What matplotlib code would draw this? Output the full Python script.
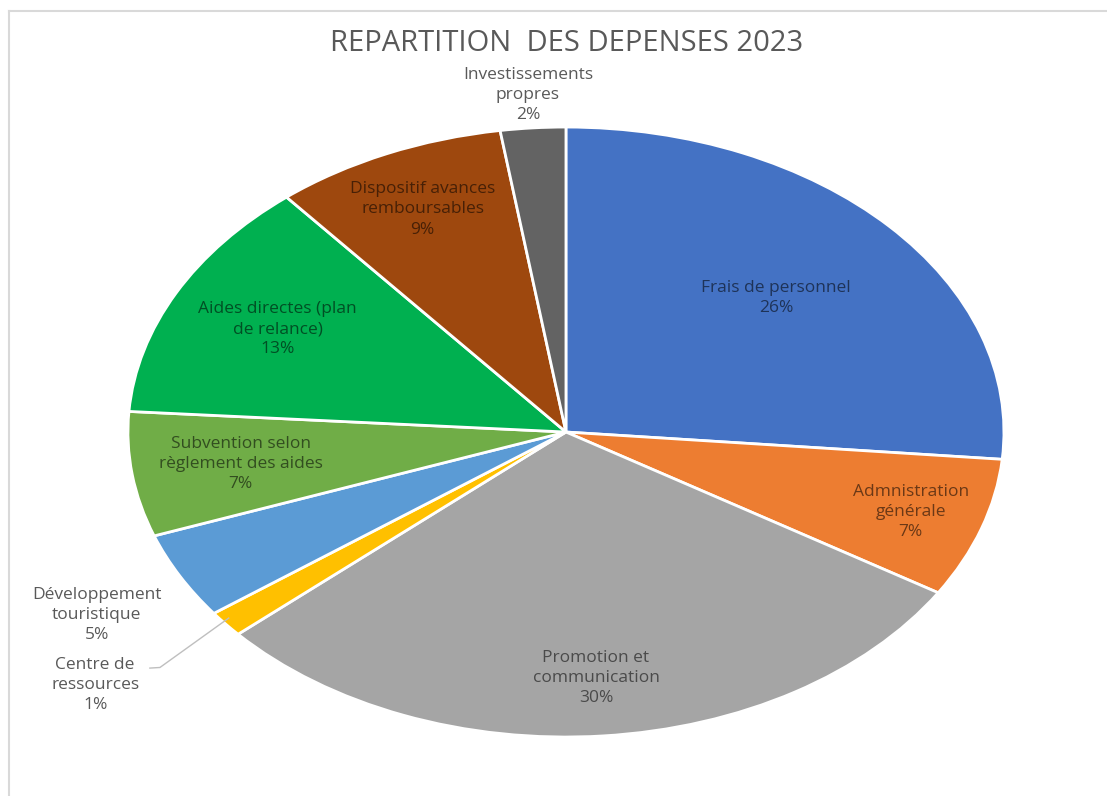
import matplotlib.pyplot as plt
import numpy as np
from matplotlib.lines import Line2D

plt.rcParams['font.family'] = ['Open Sans', 'DejaVu Sans']

# data (clockwise from 12 o'clock)
categories = ["Frais de personnel", "Admnistration\ngénérale", "Promotion et\ncommunication",
              "Centre de\nressources", "Développement\ntouristique", "Subvention selon\nrèglement des aides",
              "Aides directes (plan\nde relance)", "Dispositif avances\nremboursables", "Investissements\npropres"]
values = [26.4, 7.4, 29.6, 1.4, 4.6, 6.6, 12.9, 8.6, 2.4]
colors = ["#4472C4", "#ED7D31", "#A5A5A5", "#FFC000", "#5B9BD5",
          "#70AD47", "#00B050", "#9E480E", "#636363"]

# label placement: radius for inside labels, None -> placed outside
label_r = [0.65, 0.83, 0.81, None, None, 0.75, 0.74, 0.80, None]
outside_xy = {3: (-1.075, -0.83), 4: (-1.071, -0.60), 8: (-0.087, 1.105)}

fig = plt.figure(figsize=(11.07, 7.96), dpi=100)
ax = fig.add_axes([0.1156, 0.0741, 0.7913, 0.7663])

wedges, _ = ax.pie(values, colors=colors, startangle=90, counterclock=False,
                   wedgeprops=dict(edgecolor="white", linewidth=2))
ax.set_aspect("auto")
ax.set_xlim(-1, 1)
ax.set_ylim(-1, 1)

total = sum(values)
for i, (w, name, v) in enumerate(zip(wedges, categories, values)):
    txt = f"{name}\n{round(v / total * 100)}%"
    if label_r[i] is not None:
        mid = np.deg2rad((w.theta1 + w.theta2) / 2)
        x, y = label_r[i] * np.cos(mid), label_r[i] * np.sin(mid)
        ax.text(x, y, txt, ha="center", va="center", fontsize=12.5,
                color="black", alpha=0.55, linespacing=1.35)
    else:
        x, y = outside_xy[i]
        ax.text(x, y, txt, ha="center", va="center", fontsize=12.5,
                color="#595959", linespacing=1.35)

# leader line for "Centre de ressources"
ax.plot([-0.95, -0.927, -0.77], [-0.774, -0.772, -0.61], color="#BFBFBF", lw=1, clip_on=False)

fig.text(0.512, 0.945, "REPARTITION  DES DEPENSES 2023", ha="center", va="center",
         fontsize=21, color="#595959")

# chart frame
fig.add_artist(Line2D([9 / 1107, 9 / 1107], [0, 1 - 11 / 796], color="#D9D9D9", lw=1.5))
fig.add_artist(Line2D([9 / 1107, 1], [1 - 11 / 796, 1 - 11 / 796], color="#D9D9D9", lw=1.5))

fig.savefig("out.png", dpi=100)
